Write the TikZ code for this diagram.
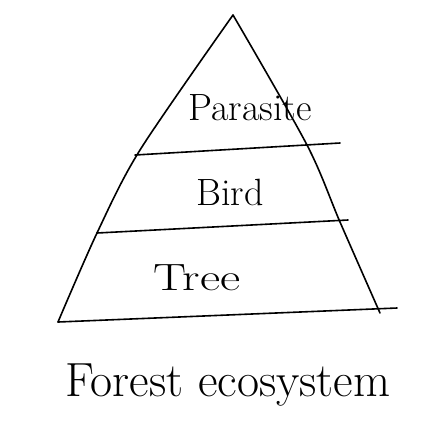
\documentclass[tikz,border=0pt]{standalone}
\usepackage{fontspec}
\begin{document}
\begin{tikzpicture}[x=1pt,y=-1pt,
  pen/.style={line width=1.6pt,line cap=round,line join=round,black},
  lbl/.style={font=\fontsize{38}{40}\selectfont,inner sep=0pt}]
\useasboundingbox (0,0) rectangle (435,424);
\coordinate (apex) at (233,15);
\coordinate (bl) at (58,322);
\coordinate (br) at (380,313);
\coordinate (bre) at (397,308);
\coordinate (l1a) at (135,155);
\coordinate (l1b) at (340,143);
\coordinate (l2a) at (97,233);
\coordinate (l2b) at (348,220);
\draw[pen] plot[smooth,tension=0.5] coordinates {(58,322) (97,233) (140,150) (233,15)};
\draw[pen] plot[smooth,tension=0.5] coordinates {(233,15) (307,145) (340,222) (380,313)};
\draw[pen] (bl) -- (bre);
\draw[pen] (l1a) -- (l1b);
\draw[pen] (l2a) -- (l2b);
\node[lbl] (parasite) at (250,108) {Parasite};
\node[lbl] (bird) at (230,192) {Bird};
\node[lbl,xscale=1.3] (tree) at (197,278) {Tree};
\node[lbl,font=\fontsize{48}{50}\selectfont] (eco) at (228,385) {Forest ecosystem};
\end{tikzpicture}
\end{document}
